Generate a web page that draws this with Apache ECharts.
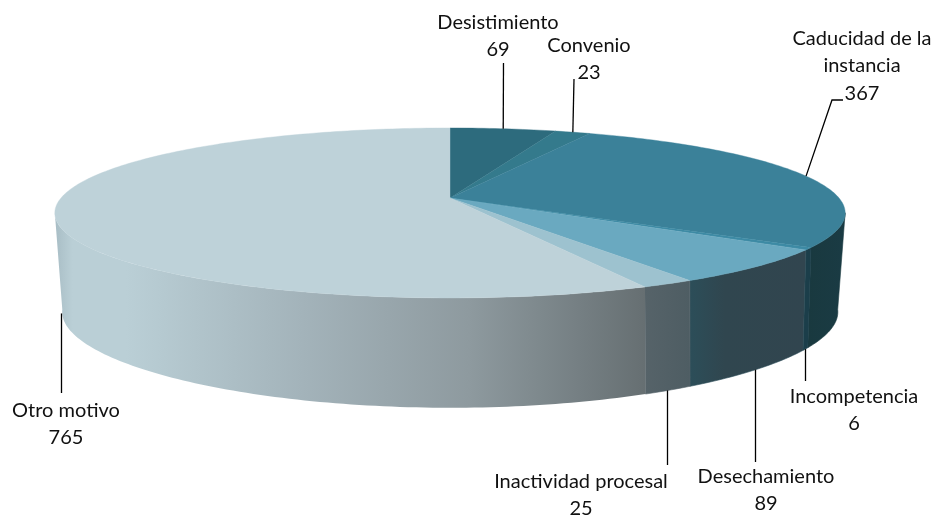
<!DOCTYPE html>
<html>
<head>
<meta charset="utf-8">
<style>
  html, body { margin: 0; padding: 0; background: #fff; }
  #chart { width: 938px; height: 516px; }
</style>
</head>
<body>
<div id="chart"></div>
<script src="https://cdn.jsdelivr.net/npm/echarts@6/dist/echarts.min.js"></script>
<script>
// datos, en sentido horario desde las 12
const categories = ["Desistimiento", "Convenio", "Caducidad de la\ninstancia", "Incompetencia", "Desechamiento", "Inactividad procesal", "Otro motivo"];
const values = [69, 23, 367, 6, 89, 25, 765];

const topColors = ["#2d6b7d", "#347a8c", "#3b8199", "#3d8aa4", "#6aa9c0", "#9dc2cf", "#bed2d9"];
// paradas del degradado de cada pared, de izquierda a derecha en pantalla
const wallStops = [
  [[0, "#2d5560"], [1, "#2d5560"]],
  [[0, "#2d5560"], [1, "#2d5560"]],
  [[0, "#19393f"], [1, "#1a3b44"]],
  [[0, "#1b3e4a"], [1, "#1b3e4a"]],
  [[0, "#2c4e59"], [0.3, "#30464f"], [1, "#31454f"]],
  [[0, "#566369"], [1, "#4e5d63"]],
  [[0, "#a8bdc5"], [0.03, "#bacfd6"], [0.12, "#bacfd6"], [0.42, "#a3b3ba"], [0.7, "#8e9a9f"], [1, "#666f72"]]
];

// posicion de las etiquetas y codo de las lineas guia
const labelPos = [[498, 36], [589, 59], [862, 66], [854, 410], [766, 490], [581, 495], [66, 424]];
const leaderEnds = [
  [[503.5, 63]],
  [[574, 79]],
  [[832, 100], [843, 100]],
  [[805.5, 381]],
  [[755.5, 462]],
  [[667.5, 465]],
  [[61.5, 393]]
];
// la linea sale de la cara superior o del borde inferior de la pared
const leaderLevel = ["top", "top", "top", "bottom", "bottom", "bottom", "bottom"];

// proyeccion en perspectiva de las dos elipses del cilindro
const levels = {
  top: { a: 389, b: 82.35, y0: 198, kx: 0.176, ky: 0.176 },
  bottom: { a: 380, b: 85.3, y0: 294, kx: 0.2, ky: 0.25 }
};
const centerX = 450;
const wallFrom = 100; // grados: la pared solo se ve entre estos dos angulos
const wallTo = 260;

const total = values.reduce((a, b) => a + b, 0);
const startDeg = [];
let acc = 0;
values.forEach((v) => {
  startDeg.push((acc / total) * 360);
  acc += v;
});

function project(deg, levelName) {
  const l = levels[levelName];
  const rad = (deg * Math.PI) / 180;
  const u = Math.sin(rad);
  const v = -Math.cos(rad);
  return [centerX + (l.a * u) / (1 - l.kx * v), l.y0 + (l.b * v) / (1 - l.ky * v)];
}

function arc(from, to, levelName) {
  const pts = [];
  const n = Math.max(2, Math.ceil(Math.abs(to - from)));
  for (let i = 0; i <= n; i++) {
    pts.push(project(from + ((to - from) * i) / n, levelName));
  }
  return pts;
}

function sliceRange(i) {
  return [startDeg[i], startDeg[i] + (values[i] / total) * 360];
}

function renderWall(params) {
  const i = params.dataIndex;
  const [s, e] = sliceRange(i);
  const from = Math.max(s, wallFrom);
  const to = Math.min(e, wallTo);
  if (to <= from) return { type: "group", children: [] };
  const points = arc(from, to, "top").concat(arc(to, from, "bottom"));
  const stops = wallStops[i].map((c) => ({ offset: c[0], color: c[1] }));
  const fill = new echarts.graphic.LinearGradient(0, 0, 1, 0, stops);
  return {
    type: "polygon",
    shape: { points },
    // trazo fino para tapar la costura con la pared vecina
    style: { fill, stroke: i === 6 ? null : stops[0].color, lineWidth: 0.6 }
  };
}

function renderTop(params) {
  const [s, e] = sliceRange(params.dataIndex);
  const c = topColors[params.dataIndex];
  return {
    type: "polygon",
    shape: { points: [[centerX, levels.top.y0]].concat(arc(s, e, "top")) },
    style: { fill: c, stroke: c, lineWidth: 0.4 }
  };
}

function renderLabel(params) {
  const i = params.dataIndex;
  const [s, e] = sliceRange(i);
  const start = project((s + e) / 2, leaderLevel[i]);
  // las que salen de la pared bajan en vertical
  if (leaderLevel[i] === "bottom") start[0] = leaderEnds[i][0][0];
  return {
    type: "group",
    children: [
      {
        type: "polyline",
        shape: { points: [start].concat(leaderEnds[i]) },
        style: { stroke: "#000", lineWidth: 1.3, fill: null }
      },
      {
        type: "text",
        style: {
          text: categories[i] + "\n" + values[i],
          x: labelPos[i][0],
          y: labelPos[i][1],
          align: "center",
          verticalAlign: "middle",
          fill: "#111",
          fontFamily: "Lato",
          fontSize: 20,
          lineHeight: 27.5
        }
      }
    ]
  };
}

const seriesData = values.map((v, i) => [i, v]);
const chart = echarts.init(document.getElementById("chart"));
chart.setOption({
  animation: false,
  backgroundColor: "#fff",
  series: [
    { type: "custom", coordinateSystem: "none", silent: true, data: seriesData, renderItem: renderWall, z: 1 },
    { type: "custom", coordinateSystem: "none", silent: true, data: seriesData, renderItem: renderTop, z: 2 },
    { type: "custom", coordinateSystem: "none", silent: true, data: seriesData, renderItem: renderLabel, z: 3 }
  ]
});
</script>
</body>
</html>
